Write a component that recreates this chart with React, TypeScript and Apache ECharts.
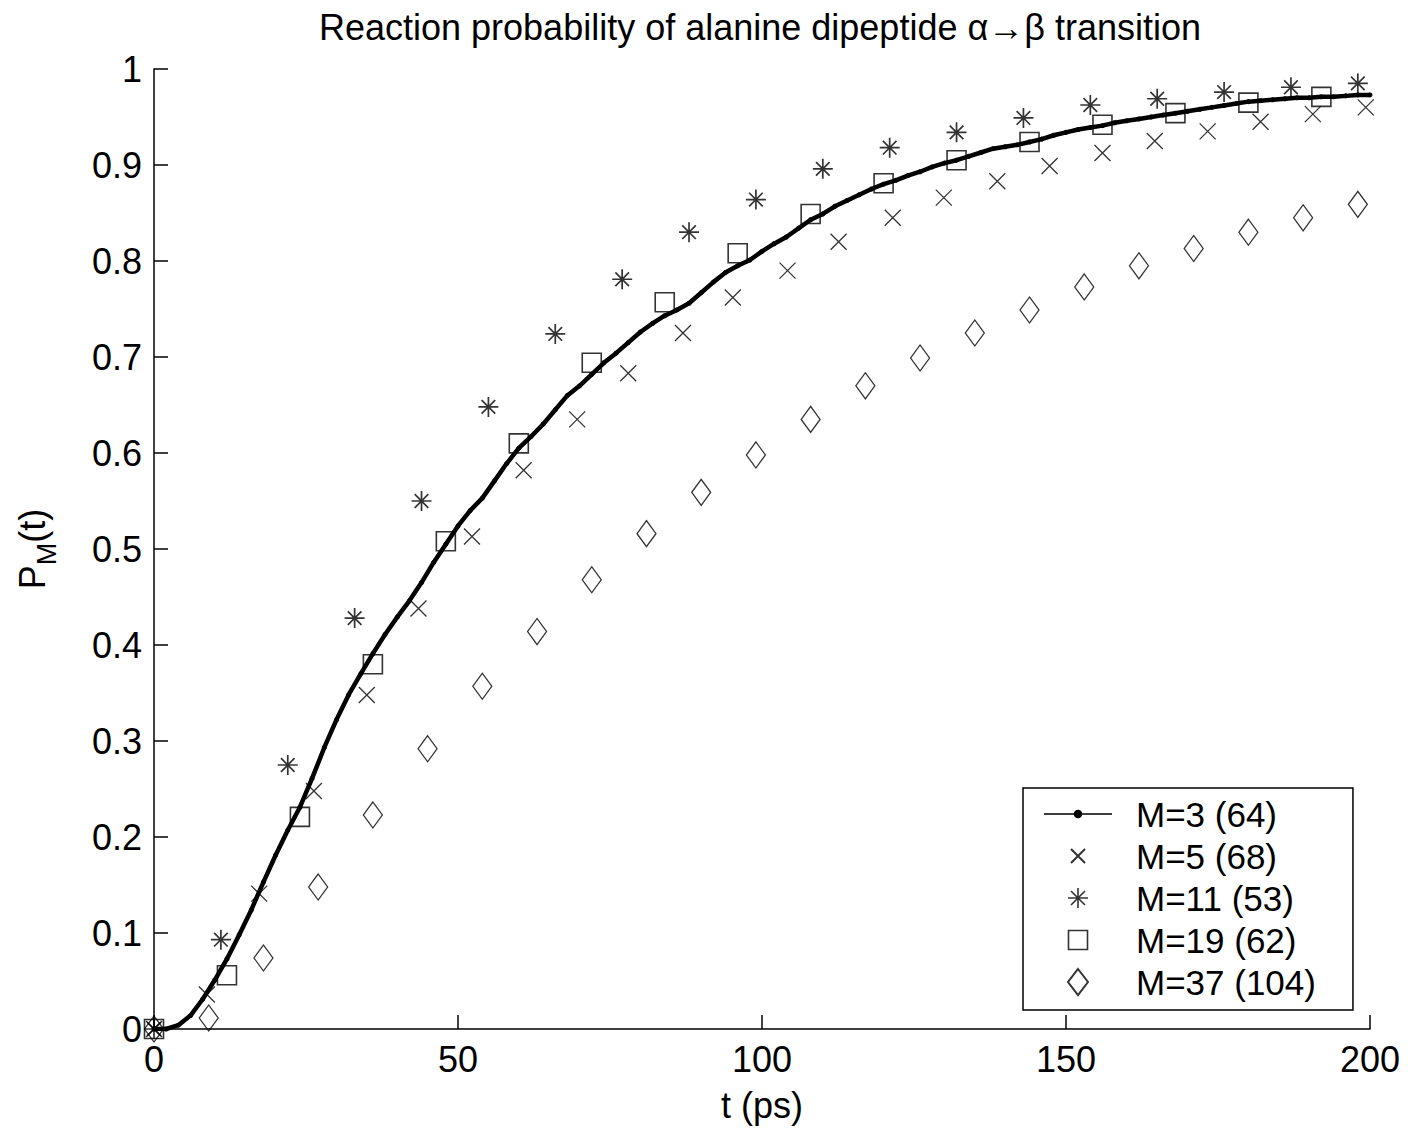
import React, { useEffect, useRef } from "react";
import * as echarts from "echarts";

const FONT = "'Liberation Sans', Arial, Helvetica, sans-serif";

const titleText = "Reaction probability of alanine dipeptide \u03b1\u2192\u03b2 transition";
const xName = "t (ps)";
const seriesNames = ["M=3 (64)", "M=5 (68)", "M=11 (53)", "M=19 (62)", "M=37 (104)"];
const xTicks = [0, 50, 100, 150, 200];

// M=3: continuous curve
const m3T = [
  0, 2, 4, 6, 8, 10, 12, 14, 16, 18, 20, 22, 24, 26, 28, 30, 32, 34, 36, 38, 40,
  42, 44, 46, 48, 50, 52, 54, 56, 58, 60, 62, 64, 66, 68, 70, 72, 74, 76, 78, 80,
  82, 84, 86, 88, 90, 92, 94, 96, 98, 100, 102, 104, 106, 108, 110, 112, 114, 116, 118, 120,
  122, 124, 126, 128, 130, 132, 134, 136, 138, 140, 142, 144, 146, 148, 150, 152, 154, 156, 158, 160,
  162, 164, 166, 168, 170, 172, 174, 176, 178, 180, 182, 184, 186, 188, 190, 192, 194, 196, 198, 200,
];
const m3P = [
  0, 0.0, 0.004, 0.014, 0.031, 0.051, 0.073, 0.098, 0.124, 0.153, 0.181, 0.207, 0.231, 0.261, 0.293, 0.322, 0.348, 0.37, 0.391, 0.411, 0.429,
  0.446, 0.465, 0.486, 0.505, 0.524, 0.54, 0.553, 0.571, 0.589, 0.605, 0.617, 0.63, 0.645, 0.66, 0.67, 0.682, 0.694, 0.704, 0.715, 0.726,
  0.735, 0.743, 0.749, 0.756, 0.767, 0.778, 0.788, 0.795, 0.801, 0.81, 0.818, 0.825, 0.834, 0.843, 0.849, 0.857, 0.863, 0.869, 0.875, 0.88,
  0.884, 0.889, 0.893, 0.898, 0.902, 0.905, 0.909, 0.913, 0.917, 0.919, 0.921, 0.924, 0.927, 0.931, 0.934, 0.937, 0.939, 0.941, 0.944, 0.946,
  0.948, 0.95, 0.952, 0.954, 0.956, 0.958, 0.96, 0.962, 0.964, 0.966, 0.967, 0.968, 0.969, 0.97, 0.97, 0.971, 0.971, 0.972, 0.973, 0.973,
];

// M=5: crosses
const m5T = [0, 8.7, 17.3, 26.3, 35, 43.5, 52.3, 60.8, 69.6, 78, 87, 95.2, 104.2, 112.6, 121.5, 129.9, 138.7, 147.3, 156, 164.6, 173.3, 182, 190.6, 199.3];
const m5P = [0, 0.036, 0.141, 0.248, 0.348, 0.438, 0.513, 0.582, 0.635, 0.683, 0.725, 0.762, 0.79, 0.82, 0.845, 0.866, 0.883, 0.899, 0.9125, 0.925, 0.935, 0.945, 0.953, 0.96];

// M=11: stars
const m11T = [0, 11, 22, 33, 44, 55, 66, 77, 88, 99, 110, 121, 132, 143, 154, 165, 176, 187, 198];
const m11P = [0, 0.093, 0.275, 0.428, 0.55, 0.648, 0.724, 0.781, 0.83, 0.864, 0.896, 0.918, 0.934, 0.949, 0.9625, 0.969, 0.976, 0.981, 0.985];

// M=19: squares
const m19T = [0, 12, 24, 36, 48, 60, 72, 84, 96, 108, 120, 132, 144, 156, 168, 180, 192];
const m19P = [0, 0.056, 0.221, 0.38, 0.508, 0.61, 0.694, 0.757, 0.808, 0.849, 0.881, 0.905, 0.924, 0.942, 0.954, 0.965, 0.971];

// M=37: diamonds
const m37T = [0, 9, 18, 27, 36, 45, 54, 63, 72, 81, 90, 99, 108, 117, 126, 135, 144, 153, 162, 171, 180, 189, 198];
const m37P = [0, 0.0115, 0.074, 0.148, 0.223, 0.292, 0.357, 0.414, 0.468, 0.516, 0.559, 0.598, 0.635, 0.67, 0.699, 0.725, 0.749, 0.773, 0.795, 0.813, 0.83, 0.845, 0.859];

const zip = (t: number[], p: number[]) => t.map((v, i) => [v, p[i]]);

const CROSS = "path://M0,0L10,10M10,0L0,10";
const STAR = "path://M0,5L10,5M5,0L5,10M1.6,1.6L8.4,8.4M8.4,1.6L1.6,8.4";

// legend icons drawn on a 68 x 26 canvas (corner move-tos fix the box)
const BOX = "M0,0M68,26";
const LEG_LINE = `path://${BOX}M0,13L68,13M30.5,13a3.5,3.5 0 1,0 7,0a3.5,3.5 0 1,0 -7,0`;
const LEG_CROSS = `path://${BOX}M27,6L41,20M41,6L27,20`;
const LEG_STAR = `path://${BOX}M24,13L44,13M34,3L34,23M27,6L41,20M41,6L27,20`;
const LEG_RECT = `path://${BOX}M24.5,3.5L43.5,3.5L43.5,22.5L24.5,22.5Z`;
const LEG_DIAMOND = `path://${BOX}M34,0L44,13L34,26L24,13Z`;

export default function App() {
  const ref = useRef<HTMLDivElement>(null);
  useEffect(() => {
    if (!ref.current) return;
    const chart = echarts.init(ref.current, null, { renderer: "svg" });
    const hollow = { color: "rgba(0,0,0,0)", borderColor: "#000", borderWidth: 1.3 };
    chart.setOption({
      animation: false,
      backgroundColor: "#fff",
      textStyle: { fontFamily: FONT },
      grid: { left: 154, right: 38, top: 69, bottom: 102 },
      xAxis: {
        type: "value",
        min: xTicks[0],
        max: xTicks[xTicks.length - 1],
        interval: 50,
        axisLine: { show: true, onZero: false, lineStyle: { color: "#000", width: 1.5 } },
        axisTick: { show: true, inside: true, length: 14, lineStyle: { color: "#000", width: 1.5 } },
        axisLabel: { color: "#000", fontSize: 36, fontFamily: FONT, margin: 12 },
        splitLine: { show: false },
        name: xName,
        nameLocation: "middle",
        nameGap: 58,
        nameTextStyle: { color: "#000", fontSize: 36, fontFamily: FONT },
      },
      yAxis: {
        type: "value",
        min: 0,
        max: 1,
        interval: 0.1,
        axisLine: { show: true, onZero: false, lineStyle: { color: "#000", width: 1.5 } },
        axisTick: { show: true, inside: true, length: 14, lineStyle: { color: "#000", width: 1.5 } },
        axisLabel: {
          color: "#000",
          fontSize: 36,
          fontFamily: FONT,
          margin: 12,
          formatter: (v: number) => (Math.abs(v) < 1e-9 ? "0" : Math.abs(v - 1) < 1e-9 ? "1" : v.toFixed(1)),
        },
        splitLine: { show: false },
      },
      legend: {
        orient: "vertical",
        left: 1023,
        top: 788,
        padding: [8, 37, 10, 20],
        itemGap: 6,
        itemWidth: 68,
        itemHeight: 26,
        symbolKeepAspect: true,
        borderColor: "#000",
        borderWidth: 1.5,
        borderRadius: 0,
        backgroundColor: "#fff",
        selectedMode: false,
        textStyle: { fontSize: 35, color: "#000", fontFamily: FONT, padding: [0, 0, 0, 19], lineHeight: 36 },
        data: [
          { name: seriesNames[0], icon: LEG_LINE, itemStyle: { color: "#000", borderColor: "#000", borderWidth: 1.6 } },
          { name: seriesNames[1], icon: LEG_CROSS },
          { name: seriesNames[2], icon: LEG_STAR, itemStyle: { borderWidth: 1.6 } },
          { name: seriesNames[3], icon: LEG_RECT, itemStyle: { borderWidth: 1.6 } },
          { name: seriesNames[4], icon: LEG_DIAMOND },
        ],
      },
      graphic: [
        {
          type: "text",
          x: 760,
          y: 27,
          silent: true,
          style: {
            text: titleText,
            fill: "#000",
            font: `36px ${FONT}`,
            align: "center",
            verticalAlign: "middle",
          },
        },
        {
          type: "text",
          x: 42,
          y: 549,
          rotation: Math.PI / 2,
          silent: true,
          style: {
            text: "{a|P}{b|M}{a|(t)}",
            fill: "#000",
            align: "center",
            verticalAlign: "middle",
            rich: {
              a: { fontSize: 36, fontFamily: FONT, lineHeight: 36, padding: [0, 0, 10, 0], verticalAlign: "bottom", fill: "#000" },
              b: { fontSize: 27, fontFamily: FONT, lineHeight: 27, verticalAlign: "bottom", fill: "#000" },
            },
          },
        },
      ],
      series: [
        {
          name: seriesNames[0],
          type: "line",
          data: zip(m3T, m3P),
          symbol: "circle",
          symbolSize: 5,
          showSymbol: true,
          showAllSymbol: true,
          lineStyle: { color: "#000", width: 4.5 },
          itemStyle: { color: "#000" },
          silent: true,
          z: 2,
        },
        {
          name: seriesNames[1],
          type: "scatter",
          data: zip(m5T, m5P),
          symbol: CROSS,
          symbolSize: 16,
          itemStyle: hollow,
          silent: true,
          z: 3,
        },
        {
          name: seriesNames[2],
          type: "scatter",
          data: zip(m11T, m11P),
          symbol: STAR,
          symbolSize: 20,
          itemStyle: { ...hollow, borderWidth: 1.7 },
          silent: true,
          z: 3,
        },
        {
          name: seriesNames[3],
          type: "scatter",
          data: zip(m19T, m19P),
          symbol: "rect",
          symbolSize: 19,
          itemStyle: { ...hollow, borderWidth: 1.6 },
          silent: true,
          z: 3,
        },
        {
          name: seriesNames[4],
          type: "scatter",
          data: zip(m37T, m37P),
          symbol: "diamond",
          symbolSize: [19, 26],
          itemStyle: hollow,
          silent: true,
          z: 3,
        },
      ],
    });
    return () => chart.dispose();
  }, []);
  return (
    <div
      ref={ref}
      style={{ position: "fixed", left: 0, top: 0, width: 1408, height: 1131, background: "#fff" }}
    />
  );
}
